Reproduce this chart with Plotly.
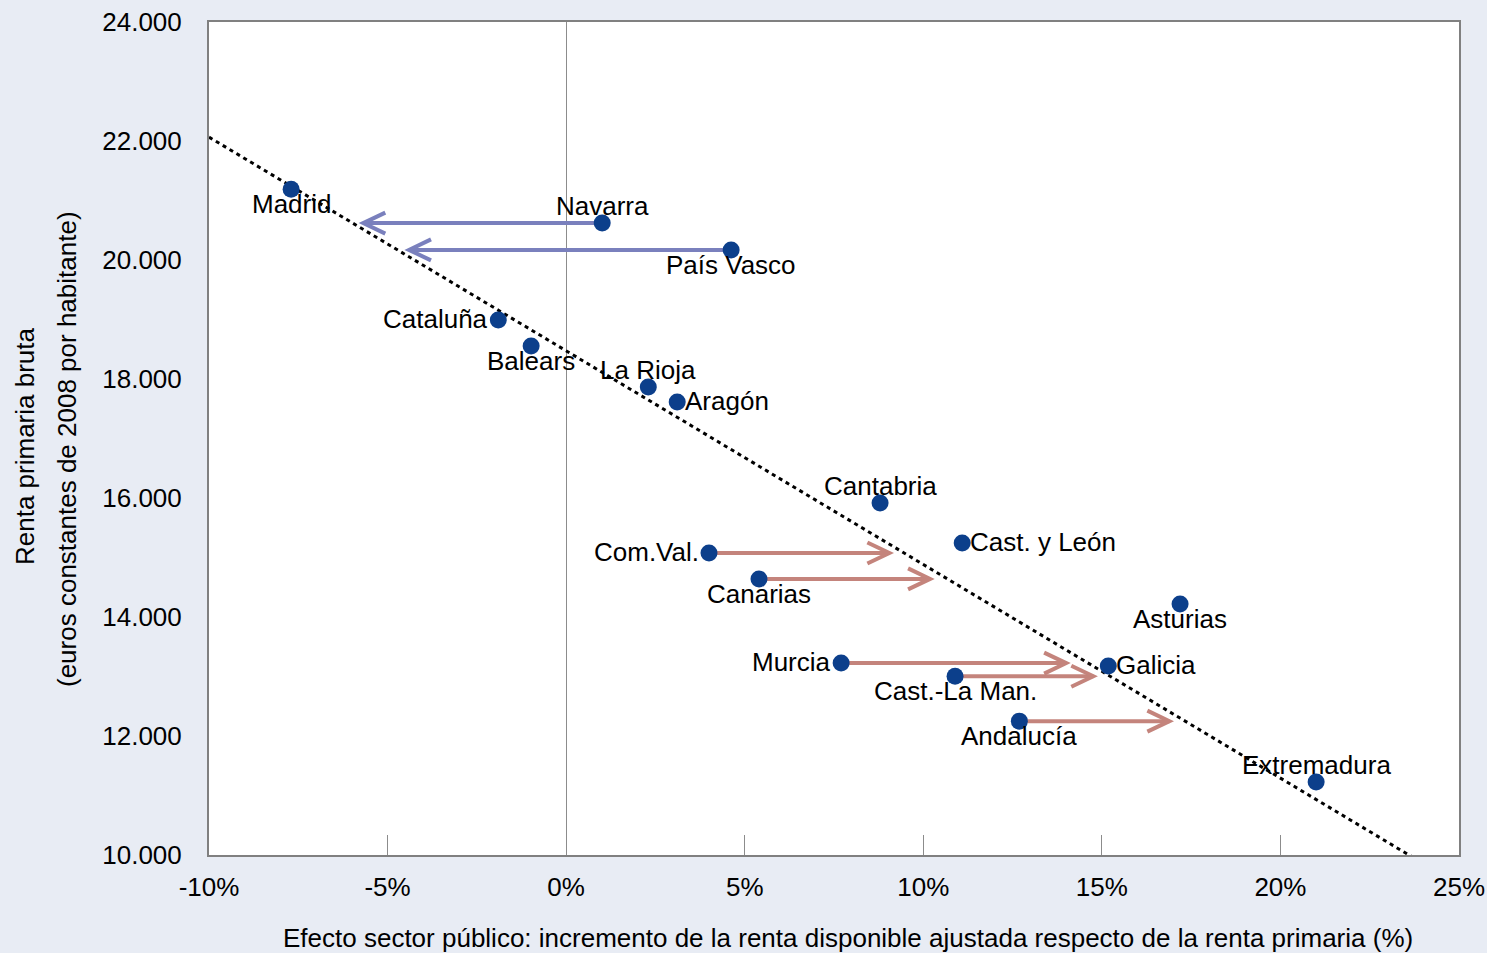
import numpy as np
import plotly.graph_objects as go

# regiones: efecto sector publico (%) y renta primaria bruta (euros 2008 por habitante)
regiones = ["Madrid", "Navarra", "País Vasco", "Cataluña", "Balears", "La Rioja", "Aragón",
            "Cantabria", "Cast. y León", "Com.Val.", "Canarias", "Asturias", "Murcia",
            "Galicia", "Cast.-La Man.", "Andalucía", "Extremadura"]
efecto = [-7.70, 1.01, 4.62, -1.90, -0.98, 2.30, 3.11, 8.79, 11.09, 4.00, 5.40, 17.19,
          7.70, 15.18, 10.89, 12.69, 21.00]
renta = [21190, 20620, 20170, 18990, 18555, 17865, 17615, 15915, 15245, 15075, 14640,
         14220, 13225, 13175, 13005, 12250, 11225]
posicion = ["bottom", "top", "bottom", "left", "bottom", "top", "right", "top", "right",
            "left", "bottom", "bottom", "left", "right", "bottom", "bottom", "top"]

# flechas: region de origen y efecto al que se desplaza
flecha_region = ["Navarra", "País Vasco", "Com.Val.", "Canarias", "Murcia", "Cast.-La Man.", "Andalucía"]
flecha_fin = [-5.68, -4.40, 9.05, 10.19, 14.00, 14.76, 16.89]

xticks = [-10, -5, 0, 5, 10, 15, 20, 25]
xtick_text = ["-10%", "-5%", "0%", "5%", "10%", "15%", "20%", "25%"]
yticks = [10000, 12000, 14000, 16000, 18000, 20000, 22000, 24000]

FONT = "Liberation Sans, Arial, sans-serif"
AZUL = "#0c3f8b"
MORADO = "#7a80bd"
ROJO = "#c4847c"

# como se coloca cada etiqueta respecto a su punto
ETIQ = {
    "bottom": dict(xanchor="center", yanchor="middle", xshift=0, yshift=-15),
    "top": dict(xanchor="center", yanchor="middle", xshift=0, yshift=17),
    "left": dict(xanchor="right", yanchor="middle", xshift=-8, yshift=1),
    "right": dict(xanchor="left", yanchor="middle", xshift=6, yshift=1),
}

fig = go.Figure()

# linea de tendencia (regresion lineal)
pend, orig = np.polyfit(efecto, renta, 1)
tx = np.array([-10, 25])
fig.add_trace(go.Scatter(x=tx, y=pend * tx + orig, mode="lines",
                         line=dict(color="black", width=3, dash="4px,4px"),
                         hoverinfo="skip", showlegend=False))

shapes = []
for reg, fin in zip(flecha_region, flecha_fin):
    i = regiones.index(reg)
    x0, y0 = efecto[i], renta[i]
    col = MORADO if fin < x0 else ROJO
    fig.add_trace(go.Scatter(x=[x0, fin], y=[y0, y0], mode="lines",
                             line=dict(color=col, width=4),
                             hoverinfo="skip", showlegend=False))
    d = -1 if fin > x0 else 1
    shapes.append(dict(type="path", xref="x", yref="y", xsizemode="pixel", ysizemode="pixel",
                       xanchor=fin, yanchor=y0,
                       path=f"M{22 * d},10.5 L0,0 L{22 * d},-10.5",
                       line=dict(color=col, width=4), layer="above"))

fig.add_trace(go.Scatter(x=efecto, y=renta, mode="markers",
                         marker=dict(size=17, color=AZUL),
                         cliponaxis=False, showlegend=False))

annotations = []
for reg, x, y, pos in zip(regiones, efecto, renta, posicion):
    annotations.append(dict(text=reg, x=x, y=y, xref="x", yref="y", showarrow=False,
                            font=dict(family=FONT, size=26, color="black"), **ETIQ[pos]))

annotations += [
    dict(text="Efecto sector público: incremento de la renta disponible ajustada respecto de la renta primaria (%)",
         xref="paper", yref="paper", x=(848 - 209) / 1250, y=-(938 - 855) / 833,
         xanchor="center", yanchor="middle", showarrow=False,
         font=dict(family=FONT, size=26)),
    dict(text="Renta primaria bruta",
         xref="paper", yref="paper", x=-(209 - 25) / 1250, y=(855 - 446) / 833,
         xanchor="center", yanchor="middle", showarrow=False, textangle=-90,
         font=dict(family=FONT, size=26)),
    dict(text="(euros constantes de 2008 por habitante)",
         xref="paper", yref="paper", x=-(209 - 67) / 1250, y=(855 - 449) / 833,
         xanchor="center", yanchor="middle", showarrow=False, textangle=-90,
         font=dict(family=FONT, size=26)),
]

fig.update_layout(
    width=1487, height=953,
    margin=dict(l=209, r=28, t=22, b=98),
    paper_bgcolor="#e8ecf4", plot_bgcolor="white",
    font=dict(family=FONT, size=26, color="black"),
    separators=",.",
    shapes=shapes,
    annotations=annotations,
    showlegend=False,
    xaxis=dict(range=[-10, 25], tickvals=xticks, ticktext=xtick_text, automargin=False,
               showgrid=False, zeroline=True, zerolinecolor="#8c8c8c", zerolinewidth=1,
               showline=True, mirror=True, linecolor="#808080", linewidth=2,
               ticks="inside", ticklen=20, tickcolor="#8c8c8c", tickwidth=1,
               ticklabelstandoff=8),
    yaxis=dict(range=[10000, 24000], tickvals=yticks, tickformat=",.0f", automargin=False,
               showgrid=False, zeroline=False,
               showline=True, mirror=True, linecolor="#808080", linewidth=2,
               ticks="", ticklabelstandoff=20),
)

fig.write_html("out.html", config={"displayModeBar": False},
               post_script="document.body.style.margin='0';")
